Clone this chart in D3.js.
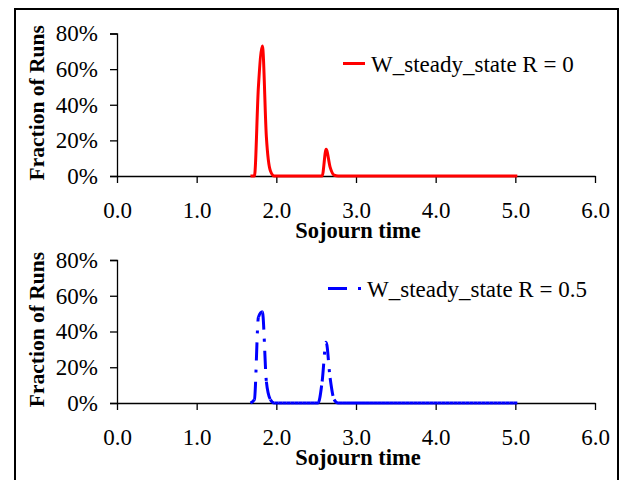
<!DOCTYPE html>
<html>
<head>
<meta charset="utf-8">
<script src="https://cdn.jsdelivr.net/npm/d3@7"></script>
<style>
  html, body { margin: 0; padding: 0; background: #fff; }
  svg { display: block; }
  svg text { font-family: "Liberation Serif", "Times New Roman", "DejaVu Serif", serif !important; fill: #000; }
</style>
</head>
<body>
<svg id="chart" width="620" height="480"></svg>
<script>
// Sojourn time bins (bin centres)
var sojourn = [
  1.675, 1.725, 1.775, 1.825, 1.875, 1.925, 1.975, 2.025, 2.075, 2.125,
  2.175, 2.225, 2.275, 2.325, 2.375, 2.425, 2.475, 2.525, 2.575, 2.625,
  2.675, 2.725, 2.775, 2.825, 2.875, 2.925, 2.975, 3.025, 3.075, 3.125,
  3.175, 3.225, 3.275, 3.325, 3.375, 3.425, 3.475, 3.525, 3.575, 3.625,
  3.675, 3.725, 3.775, 3.825, 3.875, 3.925, 3.975, 4.025, 4.075, 4.125,
  4.175, 4.225, 4.275, 4.325, 4.375, 4.425, 4.475, 4.525, 4.575, 4.625,
  4.675, 4.725, 4.775, 4.825, 4.875, 4.925, 4.975, 5.025
];

// Fraction of runs (%), W_steady_state R = 0
var fracR0 = [
  0, 0, 50, 73, 22, 3, 0, 0, 0, 0,
  0, 0, 0, 0, 0, 0, 0, 0, 0, 15,
  5, 0.5, 0, 0, 0, 0, 0, 0, 0, 0,
  0, 0, 0, 0, 0, 0, 0, 0, 0, 0,
  0, 0, 0, 0, 0, 0, 0, 0, 0, 0,
  0, 0, 0, 0, 0, 0, 0, 0, 0, 0,
  0, 0, 0, 0, 0, 0, 0, 0
];

// Fraction of runs (%), W_steady_state R = 0.5
var fracR05 = [
  0, 2, 48, 51, 12, 2, 0, 0, 0, 0,
  0, 0, 0, 0, 0, 0, 0, 0, 12, 34,
  14, 2, 0, 0, 0, 0, 0, 0, 0, 0,
  0, 0, 0, 0, 0, 0, 0, 0, 0, 0,
  0, 0, 0, 0, 0, 0, 0, 0, 0, 0,
  0, 0, 0, 0, 0, 0, 0, 0, 0, 0,
  0, 0, 0, 0, 0, 0, 0, 0
];

var xTicks = [0, 1, 2, 3, 4, 5, 6];
var yTicks = [0, 20, 40, 60, 80];

var panels = [
  { values: fracR0, label: 'W_steady_state R = 0', color: '#ff0000', dashed: false,
    top: 33.5, bottom: 176, legendX: 343, legendY: 63.5, legendLen: 22 },
  { values: fracR05, label: 'W_steady_state R = 0.5', color: '#0000ff', dashed: true,
    top: 260, bottom: 403, legendX: 328, legendY: 288.5, legendLen: 33 }
];

var svg = d3.select('#chart');
var FONT = 23;

// outer frame
svg.append('rect')
  .attr('x', 15).attr('y', 9)
  .attr('width', 603).attr('height', 480)
  .attr('fill', 'none').attr('stroke', '#000').attr('stroke-width', 2);

var x = d3.scaleLinear().domain([0, 6]).range([117, 595]);

panels.forEach(function (p) {
  var y = d3.scaleLinear().domain([0, 80]).range([p.bottom, p.top]);
  var g = svg.append('g');

  // y axis
  var ya = g.append('g')
    .attr('transform', 'translate(' + x(0) + ',0)')
    .call(d3.axisLeft(y).tickValues(yTicks).tickSize(7).tickPadding(12)
      .tickFormat(function (d) { return d + '%'; }));
  ya.select('.domain').attr('stroke', '#000').attr('stroke-width', 1.3);
  ya.selectAll('.tick line').attr('stroke', '#000').attr('stroke-width', 1.3);
  ya.selectAll('.tick text').attr('font-size', FONT);

  // x axis
  var xa = g.append('g')
    .attr('transform', 'translate(0,' + p.bottom + ')')
    .call(d3.axisBottom(x).tickValues(xTicks).tickSize(7).tickSizeOuter(0).tickPadding(19)
      .tickFormat(d3.format('.1f')));
  xa.select('.domain').attr('stroke', '#000').attr('stroke-width', 1.3);
  xa.selectAll('.tick line').attr('stroke', '#000').attr('stroke-width', 1.3);
  xa.selectAll('.tick text').attr('font-size', FONT);

  // axis titles
  g.append('text')
    .attr('x', x(3) + 2).attr('y', p.bottom + 62)
    .attr('text-anchor', 'middle')
    .attr('font-weight', 'bold').attr('font-size', 22.5)
    .text('Sojourn time');

  g.append('text')
    .attr('transform', 'translate(44,' + ((p.top + p.bottom) / 2 - 2) + ') rotate(-90)')
    .attr('text-anchor', 'middle')
    .attr('font-weight', 'bold').attr('font-size', 21.5)
    .text('Fraction of Runs');

  // series line
  var pts = sojourn.map(function (s, i) { return [s, p.values[i]]; });
  var line = d3.line()
    .x(function (d) { return x(d[0]); })
    .y(function (d) { return y(d[1]); })
    .curve(d3.curveMonotoneX);
  var dStr = line(pts);

  if (!p.dashed) {
    g.append('path').attr('d', dStr)
      .attr('fill', 'none').attr('stroke', p.color).attr('stroke-width', 3)
      .attr('stroke-linejoin', 'round');
  } else {
    // dash pattern restarts on every segment, like the original export
    var parts = dStr.split('C');
    var start = parts[0].slice(1).split(',').map(Number);
    for (var i = 1; i < parts.length; i++) {
      var nums = parts[i].split(/[ ,]+/).map(Number);
      g.append('path')
        .attr('d', 'M' + start[0] + ',' + start[1] + 'C' + parts[i])
        .attr('fill', 'none').attr('stroke', p.color).attr('stroke-width', 3)
        .attr('stroke-dasharray', '18,9,3,9');
      start = [nums[nums.length - 2], nums[nums.length - 1]];
    }
  }

  // legend
  g.append('line')
    .attr('x1', p.legendX).attr('x2', p.legendX + p.legendLen)
    .attr('y1', p.legendY).attr('y2', p.legendY)
    .attr('stroke', p.color).attr('stroke-width', 3)
    .attr('stroke-dasharray', p.dashed ? '19,11,3,11' : null);
  g.append('text')
    .attr('x', p.legendX + p.legendLen + 6).attr('y', p.legendY + 8)
    .attr('font-size', FONT)
    .text(p.label);
});
</script>
</body>
</html>
